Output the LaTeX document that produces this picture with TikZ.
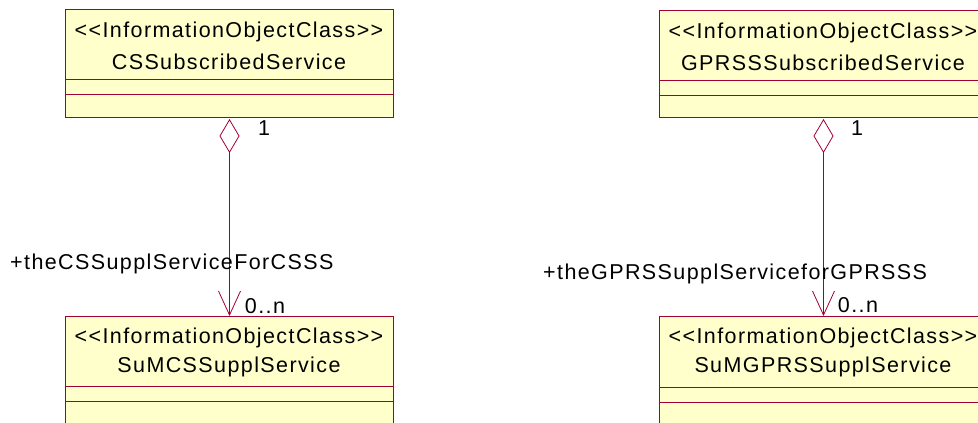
\documentclass[tikz,border=0pt]{standalone}
\usepackage{fontspec}
\setmainfont{Liberation Sans}
\newfontfamily\umlfont[LetterSpace=6.5]{Liberation Sans}
\usetikzlibrary{arrows.meta}
\definecolor{umlline}{RGB}{160,0,50}
\definecolor{umlfill}{RGB}{255,255,204}
\tikzset{
  classbox/.style={draw=umlline, fill=umlfill, line width=1pt, minimum width=328pt, inner sep=0pt, anchor=north west},
  txt/.style={inner sep=0pt, font=\umlfont\fontsize{21.5}{24}\selectfont, text=black},
  assoc/.style={draw=umlline, line width=0.8pt, {Diamond[open, length=34pt, width=20pt, fill=white]}-{Straight Barb[length=24pt, width=22pt]}}
}
\begin{document}
\begin{tikzpicture}[x=1pt,y=-1pt]
\useasboundingbox (0,0) rectangle (978,423);
\clip (0,0) rectangle (978,423);
% top left
\node[classbox, minimum height=108pt] (cs) at (65,9) {};
\draw[umlline, line width=0.8pt] ([yshift=-70pt]cs.north west) -- ([yshift=-70pt]cs.north east);
\draw[umlline, line width=0.8pt] ([yshift=-85pt]cs.north west) -- ([yshift=-85pt]cs.north east);
\node[txt] (cs1) at (229,32) {<<InformationObjectClass>>};
\node[txt] (cs2) at (229,62) {CSSubscribedService};
% top right
\node[classbox, minimum height=107pt] (gp) at (659,10) {};
\draw[umlline, line width=0.8pt] ([yshift=-70pt]gp.north west) -- ([yshift=-70pt]gp.north east);
\draw[umlline, line width=0.8pt] ([yshift=-85pt]gp.north west) -- ([yshift=-85pt]gp.north east);
\node[txt] (gp1) at (823,33) {<<InformationObjectClass>>};
\node[txt] (gp2) at (823,63) {GPRSSSubscribedService};
% bottom left
\node[classbox, minimum height=130pt] (scs) at (65,316) {};
\draw[umlline, line width=0.8pt] ([yshift=-70pt]scs.north west) -- ([yshift=-70pt]scs.north east);
\draw[umlline, line width=0.8pt] ([yshift=-85pt]scs.north west) -- ([yshift=-85pt]scs.north east);
\node[txt] (scs1) at (229,338) {<<InformationObjectClass>>};
\node[txt] (scs2) at (229,367) {SuMCSSupplService};
% bottom right
\node[classbox, minimum height=130pt] (sgp) at (659,316) {};
\draw[umlline, line width=0.8pt] ([yshift=-71pt]sgp.north west) -- ([yshift=-71pt]sgp.north east);
\draw[umlline, line width=0.8pt] ([yshift=-86pt]sgp.north west) -- ([yshift=-86pt]sgp.north east);
\node[txt] (sgp1) at (823,338) {<<InformationObjectClass>>};
\node[txt] (sgp2) at (823,367) {SuMGPRSSupplService};
% associations
\draw[assoc] ([yshift=-1pt]cs.south) -- (scs.north);
\draw[assoc] ([yshift=-1pt]gp.south) -- (sgp.north);
% labels
\node[txt] (m1) at (264,128) {1};
\node[txt] (m2) at (265,306) {0..n};
\node[txt, anchor=west] (r1) at (10,264) {+theCSSupplServiceForCSSS};
\node[txt] (m3) at (857,128) {1};
\node[txt] (m4) at (858,305) {0..n};
\node[txt, anchor=west] (r2) at (543,274) {+theGPRSSupplServiceforGPRSSS};
\end{tikzpicture}
\end{document}
